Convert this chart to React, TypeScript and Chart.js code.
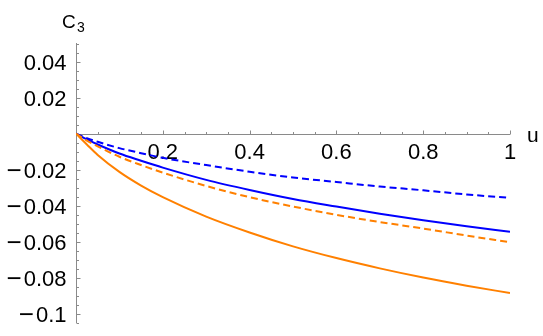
import React, { useEffect, useRef } from "react";
import { Chart, registerables } from "chart.js";

Chart.register(...registerables);

const U = [0, 0.025, 0.05, 0.1, 0.15, 0.2, 0.3, 0.4, 0.5, 0.6, 0.7, 0.8, 0.9, 1];
const blueDashed = [0, -0.0025, -0.0045, -0.008, -0.0108, -0.0134, -0.0174, -0.0211, -0.0243, -0.0268, -0.0293, -0.0314, -0.0337, -0.0356];
const blueSolid = [0, -0.0032, -0.006, -0.011, -0.015, -0.0188, -0.0256, -0.0312, -0.0362, -0.0404, -0.0444, -0.048, -0.0514, -0.0544];
const orangeDashed = [0, -0.0038, -0.007, -0.0128, -0.0174, -0.0216, -0.029, -0.0352, -0.0404, -0.045, -0.049, -0.0526, -0.0565, -0.0602];
const orangeSolid = [0, -0.006, -0.0118, -0.0212, -0.0288, -0.0352, -0.046, -0.0548, -0.0625, -0.069, -0.0747, -0.0798, -0.0843, -0.0884];

const xTickValues = [0.2, 0.4, 0.6, 0.8, 1];
const xTickLabels = ["0.2", "0.4", "0.6", "0.8", "1"];
const yTickValues = [0.04, 0.02, -0.02, -0.04, -0.06, -0.08, -0.1];
const yTickLabels = ["0.04", "0.02", "\u22120.02", "\u22120.04", "\u22120.06", "\u22120.08", "\u22120.1"];

const BLUE = "#0000ff";
const ORANGE = "#ff8000";
const FONT = '"Liberation Sans", Arial, Helvetica, sans-serif';

const axesPlugin = {
  id: "mmaAxes",
  beforeDatasetsDraw(chart: any) {
    const ctx = chart.ctx as CanvasRenderingContext2D;
    const xs = chart.scales.x;
    const ys = chart.scales.y;
    const area = chart.chartArea;
    const x0 = Math.round(xs.getPixelForValue(0)) + 0.5;
    const y0 = Math.round(ys.getPixelForValue(0)) + 0.5;
    ctx.save();
    ctx.strokeStyle = "#8a8a8a";
    ctx.lineWidth = 1;
    ctx.beginPath();
    ctx.moveTo(area.left, y0);
    ctx.lineTo(area.right, y0);
    ctx.moveTo(x0, area.top);
    ctx.lineTo(x0, area.bottom);
    for (let i = 1; i <= 20; i++) {
      const v = i * 0.05;
      const px = Math.round(xs.getPixelForValue(v)) + 0.5;
      const major = i % 4 === 0;
      ctx.moveTo(px, y0);
      ctx.lineTo(px, y0 - (major ? 4 : 2.5));
    }
    for (let i = -21; i <= 10; i++) {
      if (i === 0) continue;
      const v = i * 0.005;
      if (v > ys.max || v < ys.min) continue;
      const py = Math.round(ys.getPixelForValue(v)) + 0.5;
      const major = i % 4 === 0;
      ctx.moveTo(x0, py);
      ctx.lineTo(x0 + (major ? 4 : 2.5), py);
    }
    ctx.stroke();

    ctx.fillStyle = "#000000";
    ctx.font = "22px " + FONT;
    ctx.textAlign = "center";
    ctx.textBaseline = "alphabetic";
    xTickValues.forEach((v, i) => {
      ctx.fillText(xTickLabels[i], xs.getPixelForValue(v), 159);
    });
    yTickValues.forEach((v, i) => {
      const label = yTickLabels[i];
      const py = ys.getPixelForValue(v);
      const neg = label.charAt(0) === "\u2212";
      const body = neg ? label.slice(1) : label;
      ctx.font = "22px " + FONT;
      ctx.textAlign = "right";
      ctx.fillText(body, 66.5, py + 8.5);
      if (neg) {
        const w = ctx.measureText(body).width;
        ctx.font = "26px " + FONT;
        ctx.textAlign = "right";
        ctx.fillText("\u2212", 66.5 - w - 2, py + 9.5);
      }
    });
    ctx.textAlign = "left";
    ctx.font = "19px " + FONT;
    ctx.fillText("C", 62, 28);
    ctx.font = "14px " + FONT;
    ctx.fillText("3", 77, 32);
    ctx.font = "21px " + FONT;
    ctx.fillText("u", 527, 142);
    ctx.restore();
  },
};

function pts(ys: number[]) {
  return U.map((u, i) => ({ x: u, y: ys[i] }));
}

export default function App() {
  const ref = useRef<HTMLCanvasElement | null>(null);
  useEffect(() => {
    if (!ref.current) return;
    const mk = (label: string, data: number[], color: string, dashed: boolean) => ({
      label,
      data: pts(data),
      borderColor: color,
      backgroundColor: color,
      borderWidth: 2,
      borderDash: dashed ? [7, 4] : [],
      pointRadius: 0,
      fill: false,
      cubicInterpolationMode: "monotone" as const,
    });
    const chart = new Chart(ref.current, {
      type: "line",
      data: {
        datasets: [
          mk("orange solid", orangeSolid, ORANGE, false),
          mk("orange dashed", orangeDashed, ORANGE, true),
          mk("blue solid", blueSolid, BLUE, false),
          mk("blue dashed", blueDashed, BLUE, true),
        ],
      },
      options: {
        responsive: false,
        animation: false,
        devicePixelRatio: 1,
        layout: { padding: { left: 76, right: 33, top: 43, bottom: 13 } },
        plugins: { legend: { display: false }, tooltip: { enabled: false } },
        scales: {
          x: { type: "linear", min: 0, max: 1, display: false },
          y: { type: "linear", min: -0.105, max: 0.0503, display: false },
        },
      },
      plugins: [axesPlugin],
    });
    return () => chart.destroy();
  }, []);
  return (
    <div style={{ position: "absolute", left: 0, top: 0, width: 543, height: 336, background: "#fff" }}>
      <canvas ref={ref} width={543} height={336} style={{ width: 543, height: 336, display: "block" }} />
    </div>
  );
}
